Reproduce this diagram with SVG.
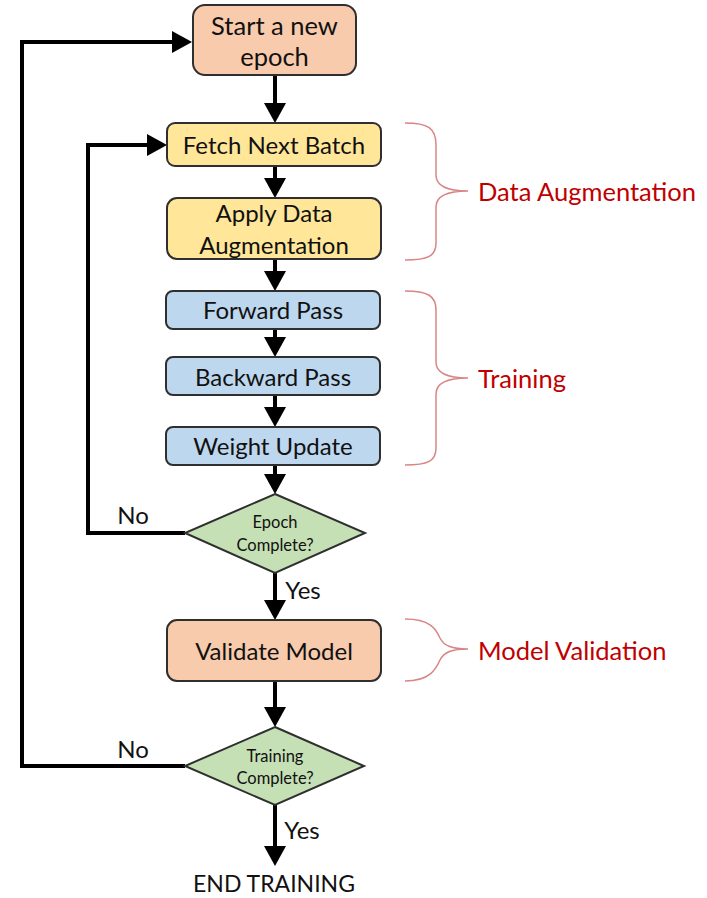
<svg xmlns="http://www.w3.org/2000/svg" width="707" height="898" viewBox="0 0 707 898">
  <style>
    .box { stroke: #2f2f2f; stroke-width: 2; }
    .peach { fill: #F8CBAD; }
    .yellow { fill: #FFE699; }
    .blue { fill: #BDD7EE; }
    .green { fill: #C5E0B4; }
    .lbl { font-family: Lato, "Open Sans", sans-serif; fill: #111; text-anchor: middle; dominant-baseline: central; }
    .big { font-size: 24px; }
    .yn { font-size: 24px; }
    .small { font-size: 16.5px; }
    .note { font-family: Lato, "Open Sans", sans-serif; font-size: 25.5px; fill: #C00000; dominant-baseline: central; }
    .edge { fill: none; stroke: #000; stroke-width: 4; }
    .brace { fill: none; stroke: #D98585; stroke-width: 1.5; }
  </style>
  <defs>
    <marker id="head" viewBox="0 0 20 22" markerUnits="userSpaceOnUse" markerWidth="20" markerHeight="22" refX="0" refY="11" orient="auto">
      <path d="M0,0 L20,11 L0,22 z" fill="#000"/>
    </marker>
  </defs>

  <rect width="707" height="898" fill="#fff"/>

  <!-- connectors -->
  <g id="connectors">
    <line class="edge" x1="275" y1="76" x2="275" y2="103" marker-end="url(#head)"/>
    <line class="edge" x1="275" y1="166" x2="275" y2="178" marker-end="url(#head)"/>
    <line class="edge" x1="275" y1="259" x2="275" y2="271" marker-end="url(#head)"/>
    <line class="edge" x1="275" y1="329" x2="275" y2="337" marker-end="url(#head)"/>
    <line class="edge" x1="275" y1="395" x2="275" y2="407" marker-end="url(#head)"/>
    <line class="edge" x1="275" y1="465" x2="275" y2="474" marker-end="url(#head)"/>
    <line class="edge" x1="275" y1="573" x2="275" y2="600" marker-end="url(#head)"/>
    <line class="edge" x1="275" y1="681" x2="275" y2="707" marker-end="url(#head)"/>
    <line class="edge" x1="275" y1="805" x2="275" y2="846" marker-end="url(#head)"/>
    <!-- inner loop: next batch -->
    <polyline class="edge" points="185,533 88,533 88,145 147,145" marker-end="url(#head)"/>
    <!-- outer loop: next epoch -->
    <polyline class="edge" points="185,766 22,766 22,42 172,42" marker-end="url(#head)"/>
    <text class="lbl yn" x="133" y="514">No</text>
    <text class="lbl yn" x="303" y="589">Yes</text>
    <text class="lbl yn" x="133" y="748">No</text>
    <text class="lbl yn" x="302" y="829">Yes</text>
  </g>

  <g id="start">
    <rect class="box peach" x="193" y="5" width="163" height="70" rx="12"/>
    <text class="lbl" style="font-size:25.5px" x="274.5" y="25">Start a new</text>
    <text class="lbl" style="font-size:25.5px" x="274.5" y="56">epoch</text>
  </g>

  <g id="fetch">
    <rect class="box yellow" x="167" y="123" width="214" height="43" rx="8"/>
    <text class="lbl big" x="274" y="144">Fetch Next Batch</text>
  </g>

  <g id="augment">
    <rect class="box yellow" x="167" y="198" width="214" height="61" rx="10"/>
    <text class="lbl big" x="274" y="212">Apply Data</text>
    <text class="lbl big" x="274" y="244">Augmentation</text>
  </g>

  <g id="forward">
    <rect class="box blue" x="166" y="291" width="214" height="38" rx="7"/>
    <text class="lbl big" x="273" y="309">Forward Pass</text>
  </g>

  <g id="backward">
    <rect class="box blue" x="166" y="357" width="214" height="38" rx="7"/>
    <text class="lbl big" x="273" y="376">Backward Pass</text>
  </g>

  <g id="update">
    <rect class="box blue" x="166" y="427" width="214" height="38" rx="7"/>
    <text class="lbl big" x="273" y="445">Weight Update</text>
  </g>

  <g id="epoch-check">
    <polygon class="box green" points="275,494 365,533 275,573 185,533"/>
    <text class="lbl small" x="275" y="522">Epoch</text>
    <text class="lbl small" x="275" y="545">Complete?</text>
  </g>

  <g id="validate">
    <rect class="box peach" x="167" y="620" width="214" height="61" rx="10"/>
    <text class="lbl big" x="274" y="650">Validate Model</text>
  </g>

  <g id="training-check">
    <polygon class="box green" points="275,727 364,766 275,805 185,766"/>
    <text class="lbl small" x="275" y="756">Training</text>
    <text class="lbl small" x="275" y="778">Complete?</text>
  </g>

  <g id="end">
    <text x="274" y="892" style="font-family: Lato, 'Open Sans', sans-serif; font-size: 23px; fill: #111; text-anchor: middle;">END TRAINING</text>
  </g>

  <!-- phase annotations -->
  <g id="phase-augmentation">
    <path class="brace" d="M405,123 C428,123 436,128 436,145 L436,175 C436,186 446,191 468,191 C446,191 436,196 436,207 L436,243 C436,256 428,260 405,260"/>
    <text class="note" x="478" y="191">Data Augmentation</text>
  </g>
  <g id="phase-training">
    <path class="brace" d="M405,291 C428,291 436,296 436,310 L436,362 C436,373 446,378 468,378 C446,378 436,383 436,394 L436,448 C436,461 428,465 405,465"/>
    <text class="note" x="478" y="378">Training</text>
  </g>
  <g id="phase-validation">
    <path class="brace" d="M405,619 C430,619 436,629 440,638 C444,646 452,649 468,649 C452,649 444,652 440,660 C436,669 430,681 405,681"/>
    <text class="note" x="478" y="650">Model Validation</text>
  </g>
</svg>
